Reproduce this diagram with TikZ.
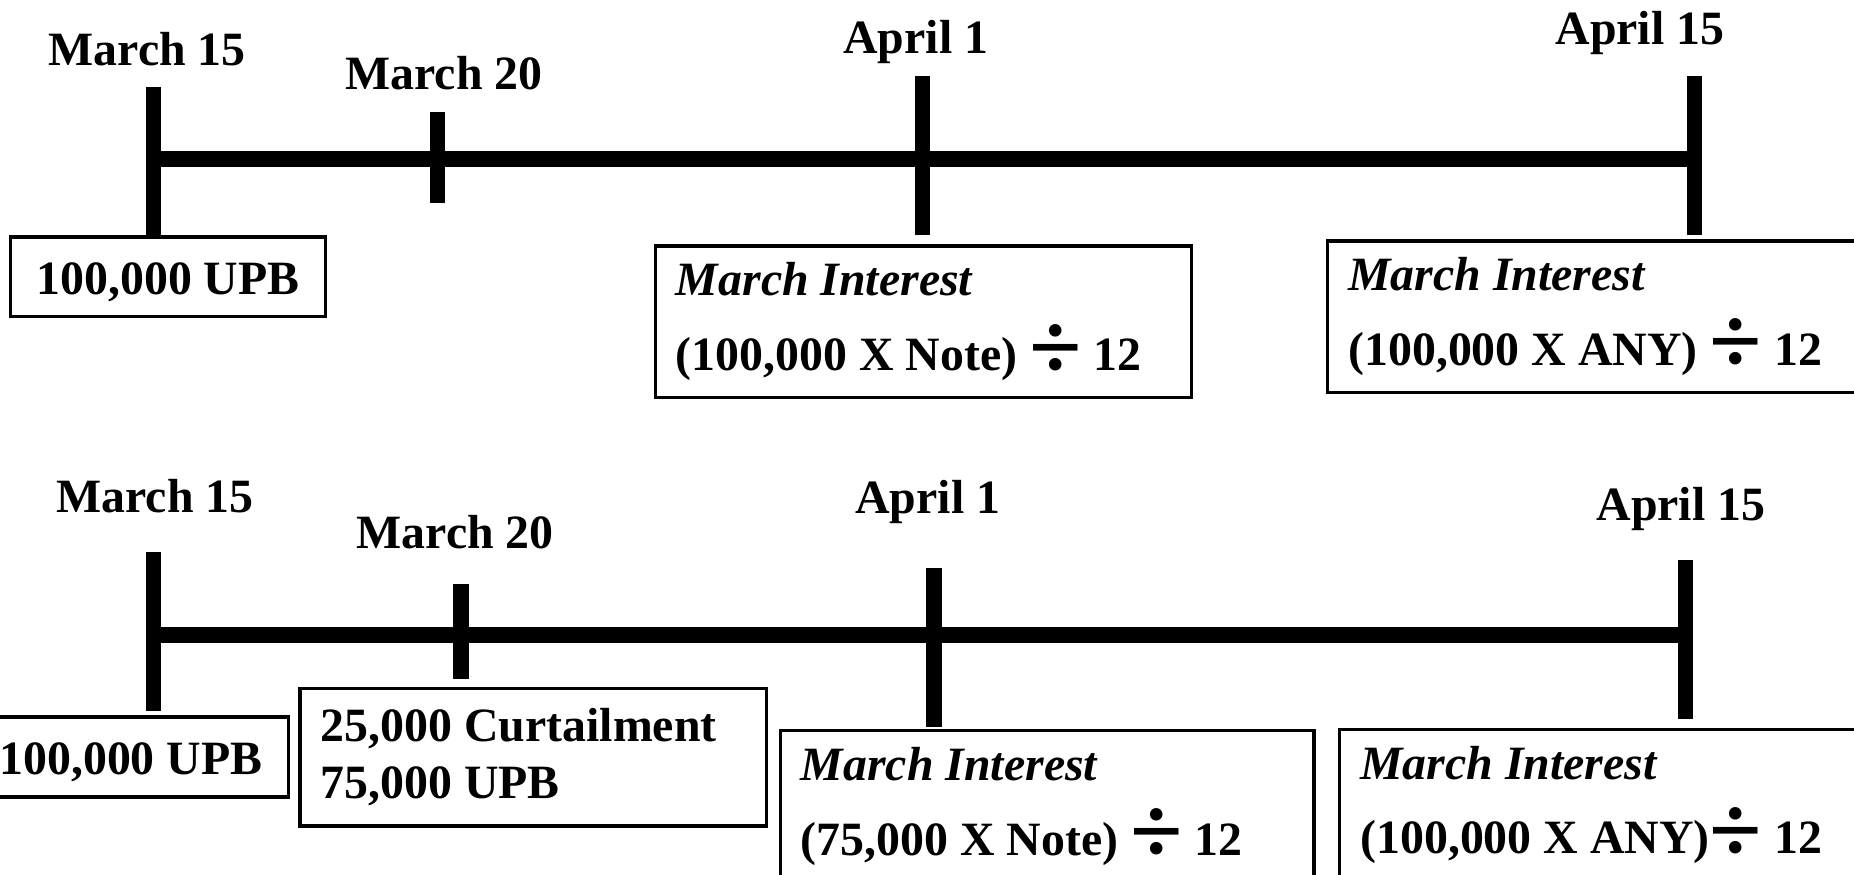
\documentclass[tikz,border=0pt]{standalone}
\usepackage{fontspec}
\setmainfont{Liberation Serif}
\usetikzlibrary{positioning}
\newcommand{\dvd}{\raisebox{-2pt}{\fontsize{23}{23}\selectfont ÷}}

\begin{document}
\begin{tikzpicture}[x=0.01cm, y=-0.01cm,
    every node/.style={font=\fontsize{11.5}{18}\selectfont\bfseries},
    datelbl/.style={anchor=base, inner sep=0pt},
    tickline/.style={line width=3.7pt},
    infobox/.style={draw, line width=0.8pt, anchor=north west, align=flush left, inner xsep=0.175cm, inner ysep=0pt, minimum height=1.28cm},
    upbbox/.style={draw, line width=0.8pt, anchor=north west, minimum width=2.665cm, inner ysep=0pt, text height=0.485cm, text depth=0.19cm}]
  \useasboundingbox (0,0) rectangle (1568,740);
  \clip (0,0) rectangle (1568,740);

  % upper timeline
  \coordinate (t1) at (130,134.5);
  \coordinate (t2) at (370,134.5);
  \coordinate (t3) at (780,134.5);
  \coordinate (t4) at (1433,134.5);
  \draw[tickline] (t1) -- (t4);
  \draw[tickline] (t1) ++(0,-60.5) -- ++(0,125);
  \draw[tickline] (t2) ++(0,-40) -- ++(0,77);
  \draw[tickline] (t3) ++(0,-70.2) -- ++(0,134.5);
  \draw[tickline] (t4) ++(0,-70.2) -- ++(0,134.5);

  \node[datelbl] (d1) at (124.6,55) {March 15};
  \node[datelbl] (d2) at (375.4,75.6) {March 20};
  \node[datelbl] (d3) at (774.5,45) {April 1};
  \node[datelbl] (d4) at (1387,38) {April 15};

  \node[upbbox] (upb1) at (7.4,199) {100,000 UPB};
  \node[infobox, text width=4.18cm] (int1) at (552.8,206.7) {\textit{March Interest}\\(100,000 X Note) \dvd{} 12};
  \node[infobox, text width=4.8cm] (int2) at (1121.5,202.4) {\textit{March Interest}\\(100,000 X ANY) \dvd{} 12};

  % lower timeline
  \coordinate (b1) at (130,537.2);
  \coordinate (b2) at (390,537.2);
  \coordinate (b3) at (790,537.2);
  \coordinate (b4) at (1425.7,537.2);
  \draw[tickline] (b1) -- (b4);
  \draw[tickline] (b1) ++(0,-70.6) -- ++(0,134.4);
  \draw[tickline] (b2) ++(0,-43.2) -- ++(0,80.3);
  \draw[tickline] (b3) ++(0,-56.5) -- ++(0,133.9);
  \draw[tickline] (b4) ++(0,-63.6) -- ++(0,134.7);

  \node[datelbl] (e1) at (131,433.6) {March 15};
  \node[datelbl] (e2) at (385,463.7) {March 20};
  \node[datelbl] (e3) at (784.7,434) {April 1};
  \node[datelbl] (e4) at (1421.6,439.8) {April 15};

  \node[upbbox] (upb2) at (-24,605) {100,000 UPB};
  \node[infobox, text width=3.59cm, minimum height=1.163cm, font=\fontsize{11.5}{13.7}\selectfont\bfseries] (curt) at (252.4,580.7) {25,000 Curtailment\\75,000 UPB};
  \node[infobox, text width=4.16cm] (int3) at (658.5,616.3) {\textit{March Interest}\\(75,000 X Note) \dvd{} 12};
  \node[infobox, text width=4.8cm] (int4) at (1131.7,615.4) {\textit{March Interest}\\(100,000 X ANY)\dvd{} 12};
\end{tikzpicture}
\end{document}
